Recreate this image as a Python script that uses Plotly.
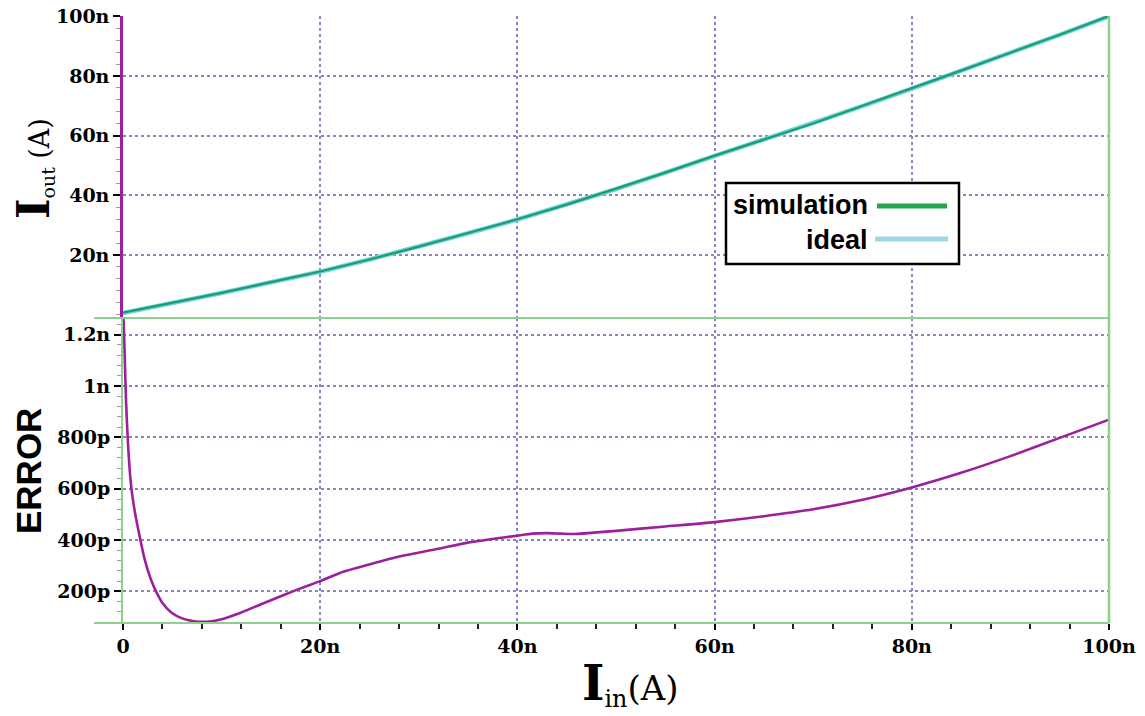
import plotly.graph_objects as go

# ---------------- data (nA for currents, pA for error) ----------------
iin_n = [0, 5, 10, 15, 20, 25, 30, 35, 40, 45, 50, 55, 60, 65, 70, 75, 80, 85, 90, 95, 100]
iout_ideal_n = [0.6, 3.8, 7.3, 10.9, 14.4, 18.5, 22.8, 27.3, 31.9, 36.9, 42.1, 47.6, 53.2,
                58.6, 64.1, 69.9, 75.8, 81.7, 87.7, 93.8, 100.0]
iout_sim_n = [0.7, 3.9, 7.3, 10.9, 14.5, 18.5, 22.8, 27.4, 32.0, 36.9, 42.2, 47.6, 53.3,
              58.7, 64.1, 70.0, 75.8, 81.8, 87.8, 93.8, 100.1]

err_x_n = [0, 0.15, 0.3, 0.5, 0.8, 1.2, 1.5, 2.2, 2.8, 3.4, 4.0, 4.9, 6.0, 7.2, 8.5, 10, 12,
           14, 16, 18, 20, 22, 25, 28, 32, 35, 38, 40, 41.5, 43, 44.5, 46, 50, 55, 60, 65,
           70, 75, 80, 85, 90, 95, 100]
err_p = [1330, 1150, 950, 780, 620, 510, 450, 325, 250, 196, 155, 118, 95, 84, 82, 92, 118,
         150, 181, 212, 240, 272, 305, 336, 366, 390, 407, 417, 425, 427, 425, 424, 436, 453,
         470, 493, 520, 557, 605, 662, 727, 798, 869]

x_ticks = [0, 20, 40, 60, 80, 100]
x_ticktext = ["0", "20n", "40n", "60n", "80n", "100n"]
y_top_ticks = [20, 40, 60, 80, 100]
y_top_ticktext = ["20n", "40n", "60n", "80n", "100n"]
y_bot_ticks = [200, 400, 600, 800, 1000, 1200]
y_bot_ticktext = ["200p", "400p", "600p", "800p", "1n", "1.2n"]

# ---------------- styling ----------------
W, H = 1145, 716
# target plot-area edges in the picture (pixels)
L, R, T, B = 122, 37, 16, 93
OFF_X, OFF_Y = 7, 8          # page offset of the figure in the browser
PW, PH = W - L - R, H - T - B
SPLIT = 305 / PH

GREEN_AX = "#8fd08f"
GRID = "#8a86bd"
MAG = "#9c1f9c"
SERIF = "DejaVu Serif"
SANS = "Liberation Sans, Arial, sans-serif"


def px(xp):
    return (xp - L) / PW


def py(yp):
    return (H - B - yp) / PH


fig = go.Figure()
fig.add_trace(go.Scatter(x=iin_n, y=iout_ideal_n, mode="lines", name="ideal",
                         line=dict(color="#6fd3dc", width=4.5), xaxis="x2", yaxis="y2",
                         showlegend=False))
fig.add_trace(go.Scatter(x=iin_n, y=iout_sim_n, mode="lines", name="simulation",
                         line=dict(color="#1b9c72", width=2.2), xaxis="x2", yaxis="y2",
                         showlegend=False))
fig.add_trace(go.Scatter(x=err_x_n, y=err_p, mode="lines", name="ERROR",
                         line=dict(color=MAG, width=2.6, shape="spline", smoothing=0.6),
                         xaxis="x", yaxis="y", showlegend=False))

tickfont = dict(family=SERIF, size=19, color="black", weight="bold")
common_x = dict(range=[0, 100], showgrid=True, gridcolor=GRID, griddash="dot", gridwidth=1.5,
                zeroline=False, tickvals=x_ticks, ticktext=x_ticktext, automargin=False)

fig.update_layout(
    width=W, height=H,
    margin=dict(l=L - OFF_X, r=R + OFF_X, t=T - OFF_Y, b=B + OFF_Y, autoexpand=False),
    paper_bgcolor="white", plot_bgcolor="white", showlegend=False,
    xaxis=dict(**common_x, domain=[0, 1], anchor="y", showline=False,
               ticks="outside", ticklen=6, tickwidth=1.5, tickcolor="black",
               tickfont=tickfont, ticklabeloverflow="allow",
               minor=dict(dtick=4, tick0=0, ticks="outside", ticklen=5, tickwidth=1.5,
                          tickcolor="#222222", showgrid=False)),
    xaxis2=dict(**common_x, domain=[0, 1], anchor="y2", matches="x", showticklabels=False,
                ticks="", showline=False),
    yaxis=dict(domain=[0, SPLIT], range=[77, 1265], tickvals=y_bot_ticks,
               ticktext=y_bot_ticktext, showgrid=True, gridcolor=GRID, griddash="dot",
               gridwidth=1.5, zeroline=False, showline=True, linecolor=GREEN_AX, linewidth=2,
               ticks="outside", ticklen=7, tickwidth=2, tickcolor="black", tickfont=tickfont,
               automargin=False, ticklabeloverflow="allow",
               minor=dict(dtick=40, tick0=0, ticks="outside", ticklen=4, tickwidth=1,
                          tickcolor="#9a9a9a", showgrid=False)),
    yaxis2=dict(domain=[SPLIT, 1], range=[-1.1, 100.1], tickvals=y_top_ticks,
                ticktext=y_top_ticktext, showgrid=True, gridcolor=GRID, griddash="dot",
                gridwidth=1.5, zeroline=False, showline=True, linecolor=MAG, linewidth=2.5,
                ticks="outside", ticklen=7, tickwidth=2, tickcolor="black", tickfont=tickfont,
                automargin=False, ticklabeloverflow="allow",
                minor=dict(dtick=4, tick0=0, ticks="outside", ticklen=4, tickwidth=1,
                           tickcolor="#9a9a9a", showgrid=False)),
)

# axis lines: separator, bottom axis, right edge + hand-drawn legend box
shapes = [
    dict(type="line", xref="paper", yref="paper", x0=px(93), x1=1, y0=SPLIT, y1=SPLIT,
         line=dict(color=GREEN_AX, width=2)),
    dict(type="line", xref="paper", yref="paper", x0=px(93), x1=1, y0=0, y1=0,
         line=dict(color=GREEN_AX, width=2)),
    dict(type="line", xref="paper", yref="paper", x0=1, x1=1, y0=0, y1=1,
         line=dict(color=GREEN_AX, width=2.5)),
    dict(type="rect", xref="paper", yref="paper", x0=px(725), x1=px(958), y0=py(264),
         y1=py(183), line=dict(color="black", width=2.5), fillcolor="white", layer="above"),
    dict(type="line", xref="paper", yref="paper", x0=px(876), x1=px(946), y0=py(206),
         y1=py(206), line=dict(color="#23a64c", width=5), layer="above"),
    dict(type="line", xref="paper", yref="paper", x0=px(874), x1=px(947), y0=py(239),
         y1=py(239), line=dict(color="#9fd6e6", width=5), layer="above"),
]
fig.update_layout(shapes=shapes)

annotations = [
    dict(text="<b>simulation</b>", xref="paper", yref="paper", x=px(869), y=py(205),
         xanchor="right", yanchor="middle", showarrow=False,
         font=dict(family=SANS, size=27, color="black")),
    dict(text="<b>ideal</b>", xref="paper", yref="paper", x=px(869), y=py(240),
         xanchor="right", yanchor="middle", showarrow=False,
         font=dict(family=SANS, size=27, color="black")),
    dict(text="<span style='font-size:44px'><b>I</b></span><sub>out</sub> (A)",
         xref="paper", yref="paper", x=px(32), y=py(169), xanchor="center",
         yanchor="middle", showarrow=False, textangle=-90,
         font=dict(family=SERIF, size=27, color="black")),
    dict(text="<b>ERROR</b>", xref="paper", yref="paper", x=px(27), y=py(471),
         xanchor="center", yanchor="middle", showarrow=False, textangle=-90,
         font=dict(family=SANS, size=35, color="black")),
    dict(text="<span style='font-size:48px'><b>I</b></span><sub>in</sub>(A)",
         xref="paper", yref="paper", x=px(629), y=py(684), xanchor="center",
         yanchor="middle", showarrow=False,
         font=dict(family=SERIF, size=34, color="black")),
]
fig.update_layout(annotations=annotations)

fig.write_html("out.html")
